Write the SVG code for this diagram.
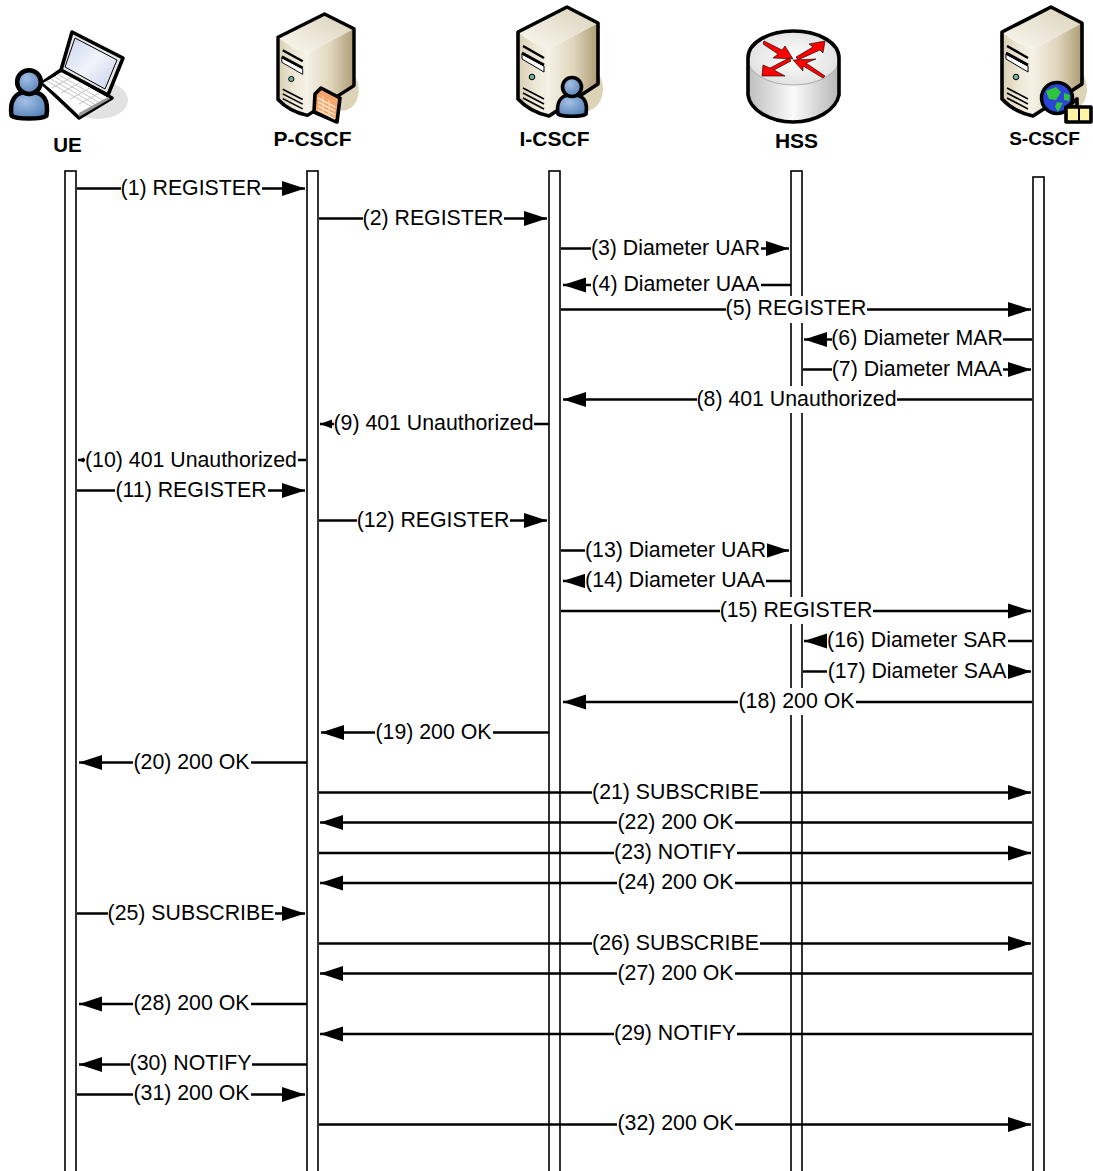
<svg xmlns="http://www.w3.org/2000/svg" xmlns:xlink="http://www.w3.org/1999/xlink" width="1093" height="1171" viewBox="0 0 1093 1171">
<style>
text{font-family:"Liberation Sans",Arial,sans-serif;fill:#000}
.n{font-size:21px;font-weight:700;text-anchor:middle}
.l{font-size:21.3px;text-anchor:middle}
.ll{fill:#fff;stroke:#000;stroke-width:1.6}
.m{fill:none;stroke:#000;stroke-width:2.4;marker-end:url(#h)}
.s{marker-end:url(#hs)}
.t{marker-end:url(#ht)}
.b{fill:#fff;stroke:none}
.o{stroke:#000;stroke-width:3.6;stroke-linejoin:round}
.v{fill:none;stroke:#000;stroke-width:1.6}
.k{fill:none;stroke:#c4c4c4;stroke-width:1}
</style>
<defs>
<marker id="h" markerUnits="userSpaceOnUse" markerWidth="25" markerHeight="18" refX="24" refY="9" orient="auto"><path d="M1 1.500L24 9L1 16.500z" fill="#000"/></marker>
<marker id="hs" markerUnits="userSpaceOnUse" markerWidth="14" markerHeight="12" refX="13" refY="6" orient="auto"><path d="M1 1.500L13 6L1 10.500z" fill="#000"/></marker>
<marker id="ht" markerUnits="userSpaceOnUse" markerWidth="8" markerHeight="8" refX="7" refY="4" orient="auto"><path d="M1 1.500L7 4L1 6.500z" fill="#000"/></marker>
<linearGradient id="face" x1="0" y1="0" x2="1" y2="0"><stop offset="0" stop-color="#d9ceb1"/><stop offset=".6" stop-color="#efe9d9"/><stop offset="1" stop-color="#f6f2e8"/></linearGradient>
<linearGradient id="side" x1="0" y1="0" x2="1" y2="0"><stop offset="0" stop-color="#f4f0e4"/><stop offset=".5" stop-color="#e0d6bd"/><stop offset="1" stop-color="#ad9b72"/></linearGradient>
<linearGradient id="top" x1="0" y1="1" x2="1" y2="0"><stop offset="0" stop-color="#fbf9f2"/><stop offset="1" stop-color="#d9d0b8"/></linearGradient>
<linearGradient id="cyl" x1="0" y1="0" x2="1" y2="0"><stop offset="0" stop-color="#bdbdbd"/><stop offset=".5" stop-color="#fafafa"/><stop offset="1" stop-color="#b5b5b5"/></linearGradient>
<radialGradient id="ctop"><stop offset="0" stop-color="#fff"/><stop offset="1" stop-color="#e2e2e2"/></radialGradient>
<linearGradient id="scr" x1="0" y1="0" x2="1" y2="1"><stop offset="0" stop-color="#c9d3ec"/><stop offset=".5" stop-color="#f2f4fb"/><stop offset="1" stop-color="#c4cfe9"/></linearGradient>
<radialGradient id="usr" cx=".4" cy=".35" r=".75"><stop offset="0" stop-color="#a3c0e4"/><stop offset="1" stop-color="#4f7cb4"/></radialGradient>
<g id="server">
<ellipse cx="68" cy="83" rx="17" ry="22" fill="#ddd3b6"/>
<path fill="url(#side)" d="M31 43L80 17V78L31 110z"/>
<path fill="url(#face)" d="M0 26Q14 38 31 43V110Q12 106 0 93z"/>
<path fill="url(#top)" d="M0 26L49 1L80 17L31 43Q14 38 0 26z"/>
<path class="o" fill="none" d="M0 26L49 1L80 17V78L31 110Q12 106 0 93z"/>
<path d="M5 40L26 52" stroke="#000" stroke-width="2.5" fill="none"/>
<path d="M4 48L26 60V66L4 53z" fill="#fff" stroke="#000" stroke-width="1"/>
<path d="M4 47L26 59" stroke="#000" stroke-width="3" fill="none"/>
<circle cx="14" cy="71" r="2.800" fill="#6db49c" stroke="#000" stroke-width="1"/>
<path class="v" d="M5 82L26 93M5 87L26 98M5 92L26 103"/>
</g>
<g id="person">
<path class="o" fill="url(#usr)" d="M-14 27C-16 14 -10 9 -4 8H4C11 9 16 14 14 27C10 30 -10 30 -14 27z"/>
<circle class="o" cx="0" cy="0" r="9.500" fill="url(#usr)"/>
</g>
</defs>

<g id="lifelines">
<rect class="ll" x="65" y="171" width="11" height="1010"/>
<rect class="ll" x="307" y="171" width="11" height="1010"/>
<rect class="ll" x="549" y="171" width="11" height="1010"/>
<rect class="ll" x="791" y="171" width="11" height="1010"/>
<rect class="ll" x="1033" y="177" width="11" height="1004"/>
</g>

<g id="UE">
<ellipse cx="98" cy="100" rx="30" ry="19" fill="#e2e2e2"/>
<path class="o" fill="#f4f4f4" d="M61 70L42 83L79 118L112 98z"/>
<path d="M63 72L108 98L80 113L43 83z" fill="#fff"/>
<path class="k" d="M47 81L92 107M51 79L96 105M55 77L100 103M59 75L104 101M52 88L72 77M61 93L81 82M70 99L90 88M79 104L99 93"/>
<path d="M79 113L108 97L110 99L79 117z" fill="#999"/>
<path class="o" fill="#e6e6e6" d="M72 32L123 58L108 95L61 70z"/>
<path fill="url(#scr)" stroke="#000" stroke-width="1" d="M75 38L117 60L105 89L65 67z"/>
<use xlink:href="#person" href="#person" transform="translate(29 82) scale(1.25)"/>
<text class="n" x="67.500" y="152" style="font-size:20.500px">UE</text>
</g>

<g id="P-CSCF">
<use xlink:href="#server" href="#server" transform="translate(278 13) scale(.95 .93)"/>
<path class="o" fill="#f3a66a" d="M315 94L321 88L340 98L337 122L314 112z"/>
<path d="M318 98L335 107M318 102L335 111M318 106L335 115M318 110L335 119" stroke="#fbe0c4" stroke-width="1.500" fill="none"/>
<path d="M323 96V112M329 100V116" stroke="#fbe0c4" stroke-width="1" fill="none"/>
<text class="n" x="312.500" y="145.500">P-CSCF</text>
</g>

<g id="I-CSCF">
<use xlink:href="#server" href="#server" x="518" y="6"/>
<use xlink:href="#person" href="#person" x="572" y="87"/>
<text class="n" x="554.500" y="145.500">I-CSCF</text>
</g>

<g id="HSS">
<path fill="url(#cyl)" d="M748 58V95C750 110 770 122 793 122S836 110 839 95V58z"/>
<ellipse cx="793.500" cy="58" rx="46" ry="27" fill="url(#ctop)" stroke="#aaa" stroke-width="1"/>
<path class="o" fill="none" d="M748 95V58C748 43 768 31 793.500 31S839 43 839 58V95C836 110 816 122 793 122S750 110 748 95z"/>
<g fill="#f00" stroke="#000" stroke-width=".6">
<path d="M763 44L764 41L782 50L785 46L793 59L773 58L778 54z"/>
<path d="M796 57L813 47L809 44L825 41L823 53L820 50L798 60z"/>
<path d="M791 61L774 70L785 76L762 76L763 65L770 68L789 58z"/>
<path d="M825 76L823 78L803 66L803 71L793 60L816 59L806 63z"/>
</g>
<text class="n" x="796.500" y="148">HSS</text>
</g>

<g id="S-CSCF">
<use xlink:href="#server" href="#server" x="1002" y="6"/>
<circle cx="1057" cy="98" r="15.500" fill="#2b46d6" stroke="#000" stroke-width="3.500"/>
<path d="M1046 91L1056 87L1061 92L1056 100L1049 99zM1057 102L1063 103L1058 112L1055 107zM1064 93L1070 95L1069 101L1064 100z" fill="#2dc43c"/>
<path class="o" fill="#fff2a0" d="M1066 108L1077 99V106z"/>
<path class="o" fill="#fff2a0" d="M1066 107H1091V122H1066z"/>
<path d="M1079 107V122" stroke="#000" stroke-width="2"/>
<text class="n" x="1044.500" y="145" style="font-size:19px">S-CSCF</text>
</g>

<g id="connectors">
<path class="m" d="M77 188.500H305"/><rect class="b" x="121" y="175" width="141" height="27"/><text class="l" x="191" y="195">(1) REGISTER</text>
<path class="m" d="M319 218.500H547"/><rect class="b" x="363" y="205" width="141" height="27"/><text class="l" x="433" y="225">(2) REGISTER</text>
<path class="m" d="M561 248.500H789"/><rect class="b" x="591" y="235" width="170" height="27"/><text class="l" x="675.500" y="255">(3) Diameter UAR</text>
<path class="m" d="M791 285H563"/><rect class="b" x="591" y="271" width="170" height="27"/><text class="l" x="675.500" y="291">(4) Diameter UAA</text>
<path class="m" d="M561 309.500H1031"/><rect class="b" x="726" y="296" width="141" height="27"/><text class="l" x="796" y="315">(5) REGISTER</text>
<path class="m" d="M1032 339.500H804"/><rect class="b" x="832" y="326" width="171" height="27"/><text class="l" x="917" y="345">(6) Diameter MAR</text>
<path class="m" d="M803 369.500H1031"/><rect class="b" x="832" y="356" width="171" height="27"/><text class="l" x="917" y="375.500">(7) Diameter MAA</text>
<path class="m" d="M1032 399.500H563"/><rect class="b" x="697" y="386" width="200" height="27"/><text class="l" x="796.500" y="405.500">(8) 401 Unauthorized</text>
<path class="m s" d="M549 424H320"/><rect class="b" x="334" y="410" width="200" height="27"/><text class="l" x="433.500" y="430">(9) 401 Unauthorized</text>
<path class="m t" d="M306 460H78"/><rect class="b" x="85" y="446" width="213" height="27"/><text class="l" x="191" y="466.500">(10) 401 Unauthorized</text>
<path class="m" d="M77 490.500H305"/><rect class="b" x="115" y="477" width="153" height="27"/><text class="l" x="191" y="496.500">(11) REGISTER</text>
<path class="m" d="M319 520.500H547"/><rect class="b" x="357" y="507" width="153" height="27"/><text class="l" x="433" y="526.500">(12) REGISTER</text>
<path class="m" d="M561 550.500H789"/><rect class="b" x="585" y="537" width="182" height="27"/><text class="l" x="675.500" y="557">(13) Diameter UAR</text>
<path class="m" d="M791 581H563"/><rect class="b" x="585" y="567" width="181" height="27"/><text class="l" x="675" y="587">(14) Diameter UAA</text>
<path class="m" d="M561 611H1031"/><rect class="b" x="720" y="597" width="153" height="27"/><text class="l" x="796" y="617">(15) REGISTER</text>
<path class="m" d="M1032 641H804"/><rect class="b" x="827" y="627" width="181" height="27"/><text class="l" x="917" y="647">(16) Diameter SAR</text>
<path class="m" d="M803 671.500H1031"/><rect class="b" x="827" y="658" width="181" height="27"/><text class="l" x="917" y="678">(17) Diameter SAA</text>
<path class="m" d="M1032 702H563"/><rect class="b" x="738" y="688" width="118" height="27"/><text class="l" x="796.500" y="708">(18) 200 OK</text>
<path class="m" d="M549 732.500H321"/><rect class="b" x="375" y="719" width="118" height="27"/><text class="l" x="433.500" y="738.500">(19) 200 OK</text>
<path class="m" d="M307 762.500H79"/><rect class="b" x="133" y="749" width="118" height="27"/><text class="l" x="191.500" y="768.500">(20) 200 OK</text>
<path class="m" d="M319 792.500H1031"/><rect class="b" x="592" y="779" width="168" height="27"/><text class="l" x="675.500" y="799">(21) SUBSCRIBE</text>
<path class="m" d="M1032 822.500H320"/><rect class="b" x="617" y="809" width="118" height="27"/><text class="l" x="675.500" y="829">(22) 200 OK</text>
<path class="m" d="M319 853H1031"/><rect class="b" x="614" y="839" width="123" height="27"/><text class="l" x="675" y="859">(23) NOTIFY</text>
<path class="m" d="M1032 883H320"/><rect class="b" x="617" y="869" width="118" height="27"/><text class="l" x="675.500" y="889">(24) 200 OK</text>
<path class="m" d="M77 913.500H305"/><rect class="b" x="108" y="900" width="167" height="27"/><text class="l" x="191" y="919.500">(25) SUBSCRIBE</text>
<path class="m" d="M319 943.500H1031"/><rect class="b" x="592" y="930" width="168" height="27"/><text class="l" x="675.500" y="950">(26) SUBSCRIBE</text>
<path class="m" d="M1032 973.500H320"/><rect class="b" x="617" y="960" width="118" height="27"/><text class="l" x="675.500" y="980">(27) 200 OK</text>
<path class="m" d="M307 1004H79"/><rect class="b" x="133" y="990" width="118" height="27"/><text class="l" x="191.500" y="1010">(28) 200 OK</text>
<path class="m" d="M1032 1034H320"/><rect class="b" x="614" y="1020" width="123" height="27"/><text class="l" x="675" y="1040">(29) NOTIFY</text>
<path class="m" d="M307 1064.500H79"/><rect class="b" x="130" y="1051" width="122" height="27"/><text class="l" x="190.500" y="1070">(30) NOTIFY</text>
<path class="m" d="M77 1094.500H305"/><rect class="b" x="133" y="1081" width="118" height="27"/><text class="l" x="191.500" y="1100">(31) 200 OK</text>
<path class="m" d="M319 1124.500H1031"/><rect class="b" x="617" y="1111" width="118" height="27"/><text class="l" x="675.500" y="1130">(32) 200 OK</text>
</g>
</svg>
